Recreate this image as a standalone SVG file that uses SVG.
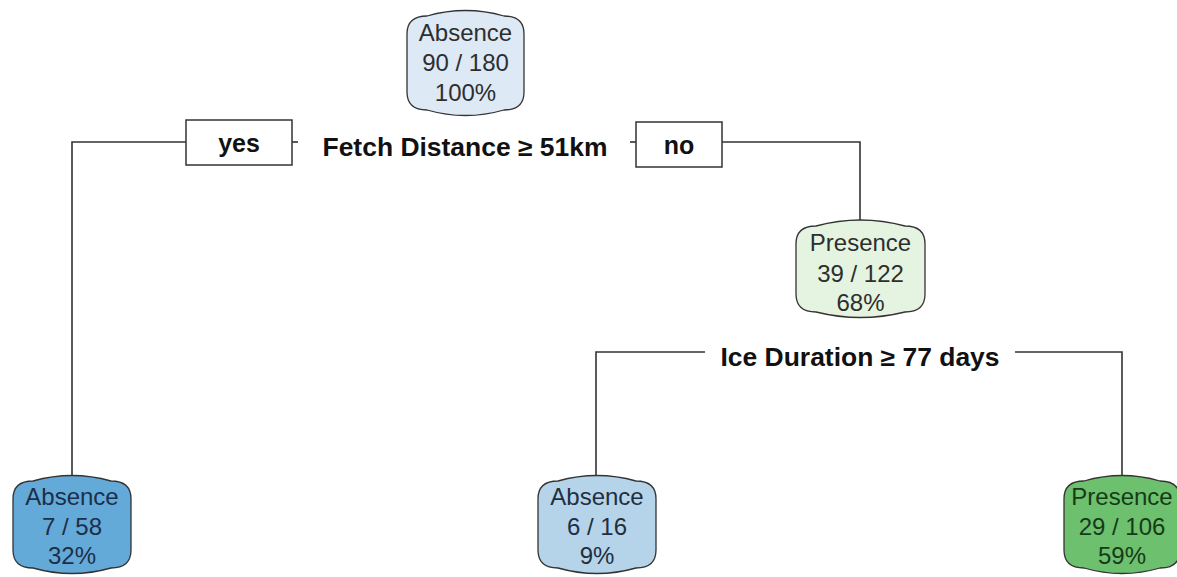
<svg xmlns="http://www.w3.org/2000/svg" width="1177" height="577" viewBox="0 0 1177 577">
<style>
.node{stroke:#333;stroke-width:1.3}
.nt{font-family:"Liberation Sans",Arial,sans-serif;font-size:24px;text-anchor:middle}
.lab{font-family:"Liberation Sans",Arial,sans-serif;font-size:25px;font-weight:bold;fill:#111;text-anchor:middle}
.edge{fill:none;stroke:#333;stroke-width:1.6}
.box{fill:#fff;stroke:#333;stroke-width:1.5}
</style>
<rect width="1177" height="577" fill="#fff"/>
<g id="connectors">
<polyline class="edge" points="186,142 72,142 72,478"/>
<polyline class="edge" points="722,142 860,142 860,220"/>
<line class="edge" x1="292" y1="142" x2="298" y2="142"/>
<line class="edge" x1="630" y1="142" x2="636" y2="142"/>
<polyline class="edge" points="705,352 596,352 596,476"/>
<polyline class="edge" points="1015,352 1122,352 1122,476"/>
</g>
<g id="split1">
<rect class="box" x="186" y="120" width="106" height="45"/>
<text class="lab" x="239" y="152">yes</text>
<text class="lab" x="465" y="156" textLength="285" lengthAdjust="spacingAndGlyphs">Fetch Distance ≥ 51km</text>
<rect class="box" x="636" y="122" width="86" height="45"/>
<text class="lab" x="679" y="154">no</text>
</g>
<g id="split2">
<text class="lab" x="860" y="366" textLength="279" lengthAdjust="spacingAndGlyphs">Ice Duration ≥ 77 days</text>
</g>
<g id="root">
<path class="node" fill="#dde9f5" d="M407,34 Q407,16 427,16 Q465.5,5 504,16 Q524,16 524,34 L524,92 Q524,110 504,110 Q465.5,121 427,110 Q407,110 407,92 Z"/>
<g class="nt" fill="#2e2e2e"><text x="465.5" y="41">Absence</text><text x="465.5" y="71">90 / 180</text><text x="465.5" y="101">100%</text></g>
</g>
<g id="mid">
<path class="node" fill="#e5f4e0" d="M796,244 Q796,226 816,226 Q860.5,214 905,226 Q925,226 925,244 L925,294 Q925,312 905,312 Q860.5,323 816,312 Q796,312 796,294 Z"/>
<g class="nt" fill="#2e2e2e"><text x="860.5" y="251">Presence</text><text x="860.5" y="282">39 / 122</text><text x="860.5" y="311">68%</text></g>
</g>
<g id="leafL">
<path class="node" fill="#64aad8" d="M13,499 Q13,481 33,481 Q72,470 111,481 Q131,481 131,499 L131,550 Q131,568 111,568 Q72,579 33,568 Q13,568 13,550 Z"/>
<g class="nt" fill="#1c2e4a"><text x="72" y="505">Absence</text><text x="72" y="535">7 / 58</text><text x="72" y="564">32%</text></g>
</g>
<g id="leafM">
<path class="node" fill="#b5d4ea" d="M538,499 Q538,481 558,481 Q597,470 636,481 Q656,481 656,499 L656,550 Q656,568 636,568 Q597,579 558,568 Q538,568 538,550 Z"/>
<g class="nt" fill="#1f2f3f"><text x="597" y="505">Absence</text><text x="597" y="535">6 / 16</text><text x="597" y="564">9%</text></g>
</g>
<g id="leafR">
<path class="node" fill="#6cc06e" d="M1064,499 Q1064,481 1084,481 Q1122,470 1160,481 Q1180,481 1180,499 L1180,550 Q1180,568 1160,568 Q1122,579 1084,568 Q1064,568 1064,550 Z"/>
<g class="nt" fill="#173a17"><text x="1122" y="505">Presence</text><text x="1122" y="535">29 / 106</text><text x="1122" y="564">59%</text></g>
</g>
</svg>
